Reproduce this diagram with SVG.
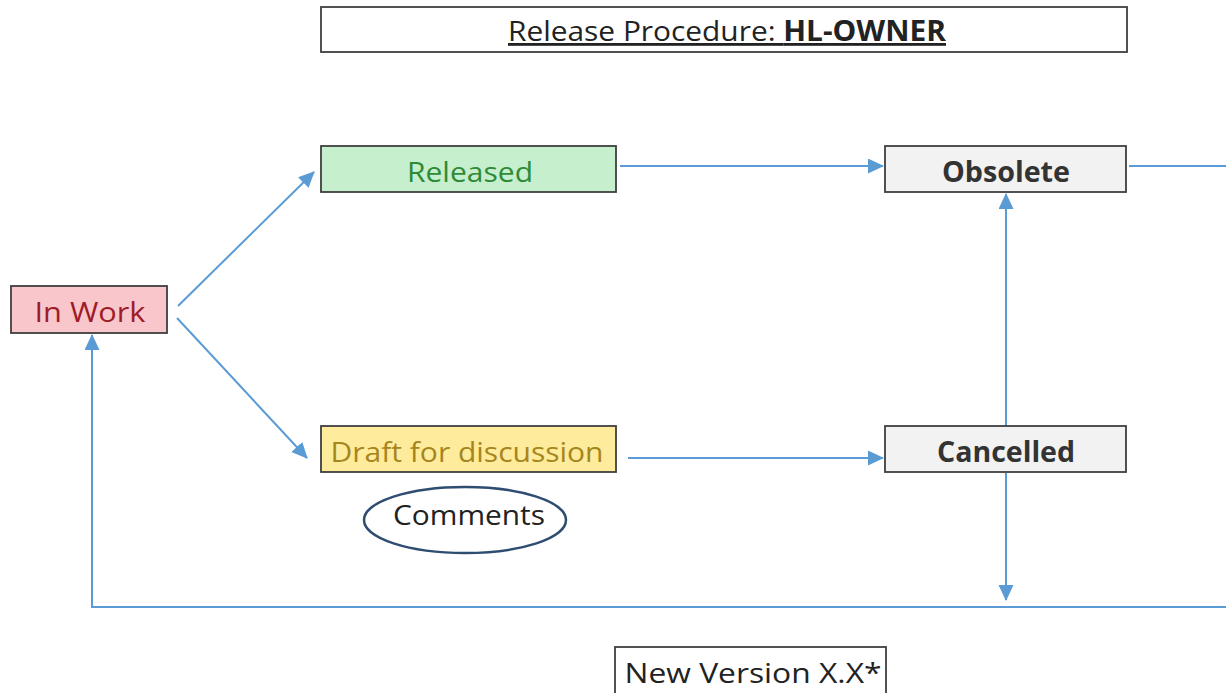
<svg xmlns="http://www.w3.org/2000/svg" width="1226" height="693" viewBox="0 0 1226 693">
<defs>
<marker id="arr" markerUnits="userSpaceOnUse" markerWidth="18" markerHeight="16" refX="15" refY="7.5" orient="auto">
<path d="M0,0 L16,7.5 L0,15 z" fill="#5b9bd5"/>
</marker>
<style>
.box{stroke:#3f3f3f;stroke-width:1.8}
.t{font-family:"Open Sans","Liberation Sans",sans-serif;font-size:28px;text-anchor:middle}
.c{fill:none;stroke:#5b9bd5;stroke-width:2}
</style>
</defs>
<rect width="1226" height="693" fill="#ffffff"/>
<g id="title">
<rect x="321" y="7" width="806" height="45" fill="#ffffff" class="box"/>
<text x="727" y="41" class="t" fill="#222222" style="text-decoration:underline" textLength="438" lengthAdjust="spacingAndGlyphs">Release Procedure: <tspan font-weight="bold">HL-OWNER</tspan></text>
</g>
<g id="connectors">
<path class="c" d="M178,306 L314,172" marker-end="url(#arr)"/>
<path class="c" d="M177,318 L307,458" marker-end="url(#arr)"/>
<path class="c" d="M620,166 H883" marker-end="url(#arr)"/>
<path class="c" d="M628,458 H883" marker-end="url(#arr)"/>
<path class="c" d="M1006,426 V194" marker-end="url(#arr)"/>
<path class="c" d="M1006,473 V600" marker-end="url(#arr)"/>
<path class="c" d="M1129,166 H1226"/>
<path class="c" d="M1226,607 H92 V335" marker-end="url(#arr)"/>
</g>
<g id="inwork">
<rect x="11" y="286" width="156" height="47" fill="#f9c6cc" class="box"/>
<text x="90" y="322" class="t" fill="#9e1c28" textLength="111" lengthAdjust="spacingAndGlyphs">In Work</text>
</g>
<g id="released">
<rect x="321" y="146" width="295" height="46" fill="#c6efce" class="box"/>
<text x="470" y="182" class="t" fill="#2f8a36" textLength="126" lengthAdjust="spacingAndGlyphs">Released</text>
</g>
<g id="obsolete">
<rect x="885" y="146" width="241" height="46" fill="#f2f2f2" class="box"/>
<text x="1006" y="182" class="t" fill="#333333" font-weight="bold" textLength="128" lengthAdjust="spacingAndGlyphs">Obsolete</text>
</g>
<g id="draft">
<rect x="321" y="426" width="295" height="46" fill="#ffeb9c" class="box"/>
<text x="467" y="462" class="t" fill="#a5861c" textLength="273" lengthAdjust="spacingAndGlyphs">Draft for discussion</text>
</g>
<g id="cancelled">
<rect x="885" y="426" width="241" height="46" fill="#f2f2f2" class="box"/>
<text x="1006" y="462" class="t" fill="#333333" font-weight="bold" textLength="138" lengthAdjust="spacingAndGlyphs">Cancelled</text>
</g>
<g id="comments">
<ellipse cx="465" cy="520" rx="101" ry="33" fill="#ffffff" stroke="#2e4d70" stroke-width="2.5"/>
<text x="469" y="525" class="t" fill="#222222" textLength="152" lengthAdjust="spacingAndGlyphs">Comments</text>
</g>
<g id="newversion">
<rect x="615" y="647" width="271" height="52" fill="#ffffff" class="box"/>
<text x="753" y="683" class="t" fill="#222222" textLength="257" lengthAdjust="spacingAndGlyphs">New Version X.X*</text>
</g>
</svg>
